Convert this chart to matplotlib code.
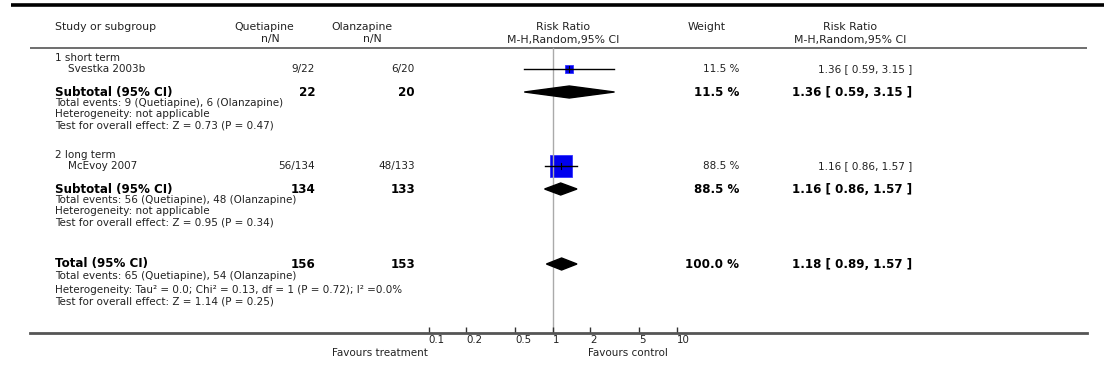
import numpy as np
import matplotlib
matplotlib.use("Agg")
import matplotlib.pyplot as plt
from matplotlib.patches import Polygon, Rectangle

# study level data
studies = ["Svestka 2003b", "McEvoy 2007"]
groups = ["1 short term", "2 long term"]
quet_events = [9, 56]
quet_total = [22, 134]
olan_events = [6, 48]
olan_total = [20, 133]
study_rr = [1.36, 1.16]
study_lo = [0.59, 0.86]
study_hi = [3.15, 1.57]
study_weight = [11.5, 88.5]

# subgroup pooled results
sub_rr = [1.36, 1.16]
sub_lo = [0.59, 0.86]
sub_hi = [3.15, 1.57]
sub_z = [0.73, 0.95]
sub_p = [0.47, 0.34]

# overall pooled result
total_rr = 1.18
total_lo = 0.89
total_hi = 1.57
total_z = 1.14
total_p = 0.25
tau2, chi2, df_het, p_het, i2 = 0.0, 0.13, 1, 0.72, 0.0

ticks = [0.1, 0.2, 0.5, 1, 2, 5, 10]

W, H = 1104, 392
fig = plt.figure(figsize=(W / 100, H / 100), dpi=100)
ax = fig.add_axes([0, 0, 1, 1])
ax.set_xlim(0, W)
ax.set_ylim(H, 0)
ax.axis("off")

# forest panel: log scale, x=1 at px 552.7, 124 px per decade
x_one, decade = 552.7, 124.0
fx = fig.add_axes([0, 0, 1, 1], facecolor="none")
fx.set_xscale("log")
fx.set_xlim(10 ** (-x_one / decade), 10 ** ((W - x_one) / decade))
fx.set_ylim(H, 0)
for s in ["top", "left", "right"]:
    fx.spines[s].set_visible(False)
axis_y = 332.7
fx.spines["bottom"].set_position(("data", axis_y))
fx.spines["bottom"].set_bounds(10 ** ((30 - x_one) / decade), 10 ** ((1087 - x_one) / decade))
fx.spines["bottom"].set_color("#555555")
fx.spines["bottom"].set_linewidth(2)
fx.set_yticks([])
fx.set_xticks(ticks)
fx.set_xticklabels([f"{t:g}" for t in ticks])
fx.xaxis.set_minor_locator(plt.NullLocator())
fx.tick_params(axis="x", direction="in", length=4, width=1, color="#333333",
               labelsize=7.4, pad=2, labelcolor="#222222")
for lab in fx.get_xticklabels():
    lab.set_horizontalalignment("left")

FONT = "DejaVu Sans"
small = dict(fontsize=7.5, family=FONT, color="#222222", va="center")
head = dict(fontsize=7.8, family=FONT, color="#222222", va="center", ha="center")
bold = dict(fontsize=8.6, family=FONT, color="black", va="center", fontweight="bold")

# header lines
ax.plot([11, W], [5, 5], color="black", lw=2.6, solid_capstyle="butt")
ax.plot([30, 1087], [48, 48], color="#555555", lw=1.2, solid_capstyle="butt")

# column headers
ax.text(55, 27, "Study or subgroup", ha="left", va="center", fontsize=7.8, family=FONT, color="#222222")
ax.text(264, 27, "Quetiapine", **head)
ax.text(270, 39, "n/N", **head)
ax.text(362, 27, "Olanzapine", **head)
ax.text(372, 39, "n/N", **head)
ax.text(563, 27, "Risk Ratio", **head)
ax.text(563, 40, "M-H,Random,95% CI", **head)
ax.text(707, 27, "Weight", **head)
ax.text(850, 27, "Risk Ratio", **head)
ax.text(850, 40, "M-H,Random,95% CI", **head)

# line of no effect
fx.plot([1, 1], [48, axis_y], color="#aaaaaa", lw=1, zorder=1)

def diamond(lo, mid, hi, y, h=6):
    fx.add_patch(Polygon([(lo, y), (mid, y - h), (hi, y), (mid, y + h)],
                         closed=True, color="black", zorder=3))

col_q, col_o, col_w, col_rr = 315, 415, 739, 912
group_y = [58, 155]
for i in range(len(studies)):
    gy = group_y[i]
    sy = gy + 11
    ty = gy + 34
    ax.text(55, gy, groups[i], ha="left", **small)
    ax.text(68, sy, studies[i], ha="left", **small)
    ax.text(col_q, sy, f"{quet_events[i]}/{quet_total[i]}", ha="right", **small)
    ax.text(col_o, sy, f"{olan_events[i]}/{olan_total[i]}", ha="right", **small)
    ax.text(col_w, sy, f"{study_weight[i]:.1f} %", ha="right", **small)
    ax.text(col_rr, sy, f"{study_rr[i]:.2f} [ {study_lo[i]:.2f}, {study_hi[i]:.2f} ]", ha="right", **small)

    # study estimate: CI line and weighted box
    fx.plot([study_lo[i], study_hi[i]], [sy, sy], color="black", lw=1, zorder=2)
    side = 22 * np.sqrt(study_weight[i] / max(study_weight))
    side = max(side, 6)
    cx = x_one + decade * np.log10(study_rr[i])
    ax.add_patch(Rectangle((cx - side / 2, sy - side / 2), side, side,
                           facecolor="#0000ee", edgecolor="#3333ff", lw=0.6, zorder=4))
    fx.plot([study_rr[i], study_rr[i]], [sy - 3, sy + 3], color="black", lw=0.8, zorder=5)

    ax.text(55, ty, "Subtotal (95% CI)", ha="left", **bold)
    ax.text(col_q, ty, f"{quet_total[i]}", ha="right", **bold)
    ax.text(col_o, ty, f"{olan_total[i]}", ha="right", **bold)
    ax.text(col_w, ty, f"{study_weight[i]:.1f} %", ha="right", **bold)
    ax.text(col_rr, ty, f"{sub_rr[i]:.2f} [ {sub_lo[i]:.2f}, {sub_hi[i]:.2f} ]", ha="right", **bold)
    diamond(sub_lo[i], sub_rr[i], sub_hi[i], ty)

    ax.text(55, ty + 11, f"Total events: {quet_events[i]} (Quetiapine), {olan_events[i]} (Olanzapine)",
            ha="left", **small)
    ax.text(55, ty + 22, "Heterogeneity: not applicable", ha="left", **small)
    ax.text(55, ty + 33, f"Test for overall effect: Z = {sub_z[i]:.2f} (P = {sub_p[i]:.2f})",
            ha="left", **small)

# overall total
ty = 264
ax.text(55, ty, "Total (95% CI)", ha="left", **bold)
ax.text(col_q, ty, f"{sum(quet_total)}", ha="right", **bold)
ax.text(col_o, ty, f"{sum(olan_total)}", ha="right", **bold)
ax.text(col_w, ty, f"{sum(study_weight):.1f} %", ha="right", **bold)
ax.text(col_rr, ty, f"{total_rr:.2f} [ {total_lo:.2f}, {total_hi:.2f} ]", ha="right", **bold)
diamond(total_lo, total_rr, total_hi, ty)
ax.text(55, ty + 12, f"Total events: {sum(quet_events)} (Quetiapine), {sum(olan_events)} (Olanzapine)",
        ha="left", **small)
ax.text(55, ty + 26, f"Heterogeneity: Tau² = {tau2:.1f}; Chi² = {chi2:.2f}, df = {df_het} "
        f"(P = {p_het:.2f}); I² ={i2:.1f}%", ha="left", **small)
ax.text(55, ty + 38, f"Test for overall effect: Z = {total_z:.2f} (P = {total_p:.2f})",
        ha="left", **small)

# favours labels
ax.text(428, 353, "Favours treatment", ha="right", **small)
ax.text(588, 353, "Favours control", ha="left", **small)

fig.savefig("out.png", dpi=100, facecolor="white")
